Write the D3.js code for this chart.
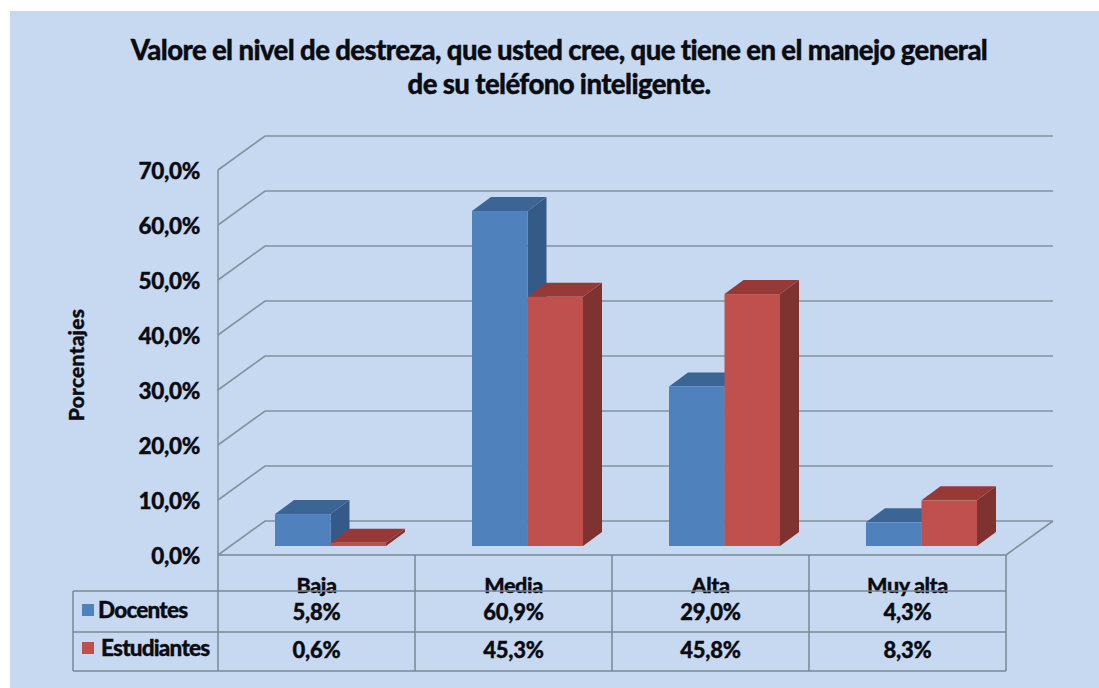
<!DOCTYPE html>
<html lang="es">
<head>
<meta charset="utf-8">
<script src="https://cdn.jsdelivr.net/npm/d3@7/dist/d3.min.js"></script>
<style>
  html, body { margin: 0; padding: 0; background: #fff; }
  svg { display: block; }
  text { font-family: Lato, "Open Sans", sans-serif; font-weight: 900; fill: #0b0b12; stroke: #0b0b12; stroke-width: 0.35px; }
</style>
</head>
<body>
<svg id="chart" width="1099" height="688"></svg>
<script>
const categories = ["Baja", "Media", "Alta", "Muy alta"];
const docentes = [5.8, 60.9, 29.0, 4.3];
const estudiantes = [0.6, 45.3, 45.8, 8.3];
const seriesNames = ["Docentes", "Estudiantes"];
const yTicks = [0, 10, 20, 30, 40, 50, 60, 70];
const titleLines = [
  "Valore el nivel de destreza, que usted cree, que tiene en el manejo general",
  "de su teléfono inteligente."
];
const yTitle = "Porcentajes";

const seriesValues = [docentes, estudiantes];
const palette = [
  { front: "#4f81bd", top: "#3b6595", side: "#345b88" },
  { front: "#c0504d", top: "#973a37", side: "#7f3331" }
];
const grid = "#84919f";
const tableLine = "#7a8797";

const svg = d3.select("#chart");
const es = d3.formatLocale({ decimal: ",", thousands: ".", grouping: [3], currency: ["", "€"] });
const pct = es.format(".1f");
const label = v => pct(v) + "%";

// Oblique projection: the floor recedes up and to the right.
const depthX = 47, depthY = -34;
const x = d3.scaleBand().domain(categories).range([218, 1006]);
const y = d3.scaleLinear().domain([0, 70]).range([555, 170]);
const tableRules = [591, 632, 671];
const rowBaseline = d3.scaleOrdinal().domain(seriesNames).range([620, 658]);

svg.append("rect").attr("x", 10).attr("y", 11).attr("width", 1089).attr("height", 677).attr("fill", "#c6d9f0");

// Title
svg.append("g").selectAll("text").data(titleLines).join("text")
  .attr("x", 559).attr("y", (d, i) => 60 + i * 34)
  .attr("text-anchor", "middle").attr("font-size", 27.5)
  .attr("letter-spacing", -0.6)
  .text(d => d);

// Side wall and back wall gridlines
const wall = svg.append("g").attr("fill", "none").attr("stroke", grid).attr("stroke-width", 1.6);
wall.selectAll("polyline").data(yTicks).join("polyline")
  .attr("points", d => {
    const left = x.range()[0], right = x.range()[1], yy = y(d);
    return `${left},${yy} ${left + depthX},${yy + depthY} ${right + depthX},${yy + depthY}`;
  });
wall.append("line").attr("x1", x.range()[0]).attr("x2", x.range()[0]).attr("y1", y(70)).attr("y2", y(0));
wall.append("polyline").attr("points",
  `${x.range()[1] + depthX},${y(0) + depthY} ${x.range()[1]},${y(0)}`);

// Value axis labels
const axis = d3.axisLeft(y).tickValues(yTicks).tickSize(0).tickPadding(0).tickFormat(label);
const axisG = svg.append("g").attr("transform", "translate(200,1)").call(axis);
axisG.select(".domain").remove();
axisG.selectAll("text").attr("font-size", 22.5).attr("letter-spacing", -0.3)
  .style("font-family", "Lato, sans-serif").style("font-weight", 900);

// Axis title
svg.append("text").attr("transform", "translate(84,365) rotate(-90)")
  .attr("text-anchor", "middle").attr("font-size", 21).attr("letter-spacing", 0.2).text(yTitle);

// 3D columns, standing part-way back on the floor
const barW = 55.5, floorX = 14, floorY = -9, barDX = 19, barDY = -14;
const bars = [];
seriesValues.forEach((vals, s) => vals.forEach((v, c) => bars.push({ s, c, v })));
const barG = svg.append("g").selectAll("g")
  .data(bars.sort((a, b) => a.c - b.c || a.s - b.s)).join("g");
const left = d => x(categories[d.c]) + x.bandwidth() / 2 - barW + floorX + d.s * barW;
const base = y(0) + floorY;
const topY = d => y(d.v) + floorY;

barG.append("polygon").attr("fill", d => palette[d.s].side)
  .attr("points", d => {
    const r = left(d) + barW;
    return [[r, base], [r + barDX, base + barDY], [r + barDX, topY(d) + barDY], [r, topY(d)]].join(" ");
  });
barG.append("polygon").attr("fill", d => palette[d.s].top)
  .attr("points", d => {
    const l = left(d), r = l + barW, t = topY(d);
    return [[l, t], [l + barDX, t + barDY], [r + barDX, t + barDY], [r, t]].join(" ");
  });
barG.append("rect").attr("fill", d => palette[d.s].front)
  .attr("x", left).attr("y", topY).attr("width", barW).attr("height", d => base - topY(d));

// Data table: category header, sitting on the first rule
svg.append("g").selectAll("text").data(categories).join("text")
  .attr("x", d => x(d) + x.bandwidth() / 2).attr("y", 593)
  .attr("text-anchor", "middle").attr("font-size", 21.5).attr("letter-spacing", -0.4)
  .text(d => d);

// Data table: rules
const rules = svg.append("g").attr("stroke", tableLine).attr("stroke-width", 1.5);
const colEdges = categories.map(c => x(c)).concat(x.range()[1]);
const tableBottom = tableRules[tableRules.length - 1];
rules.selectAll(".col").data(colEdges).join("line").attr("class", "col")
  .attr("x1", d => d).attr("x2", d => d).attr("y1", y(0)).attr("y2", tableBottom);
rules.append("line").attr("x1", x.range()[0]).attr("x2", x.range()[1]).attr("y1", y(0)).attr("y2", y(0));
rules.selectAll(".row").data(tableRules).join("line").attr("class", "row")
  .attr("x1", 73).attr("x2", x.range()[1]).attr("y1", d => d).attr("y2", d => d);
rules.append("line").attr("x1", 73).attr("x2", 73).attr("y1", tableRules[0]).attr("y2", tableBottom);

// Data table: legend keys, series names and values
const rows = svg.append("g").selectAll("g").data(seriesNames).join("g")
  .attr("transform", d => `translate(0,${rowBaseline(d)})`);
rows.append("rect").attr("x", 82).attr("y", -16).attr("width", 12).attr("height", 12)
  .attr("fill", (d, i) => palette[i].front);
rows.append("text").attr("x", (d, i) => 98 + i * 3).attr("y", -2)
  .attr("font-size", 22.5).attr("letter-spacing", -0.8).text(d => d);
rows.each(function (d, i) {
  d3.select(this).selectAll(".val").data(seriesValues[i]).join("text").attr("class", "val")
    .attr("x", (v, c) => x(categories[c]) + x.bandwidth() / 2).attr("y", 0)
    .attr("text-anchor", "middle").attr("font-size", 22).attr("letter-spacing", -0.2)
    .text(label);
});
</script>
</body>
</html>
